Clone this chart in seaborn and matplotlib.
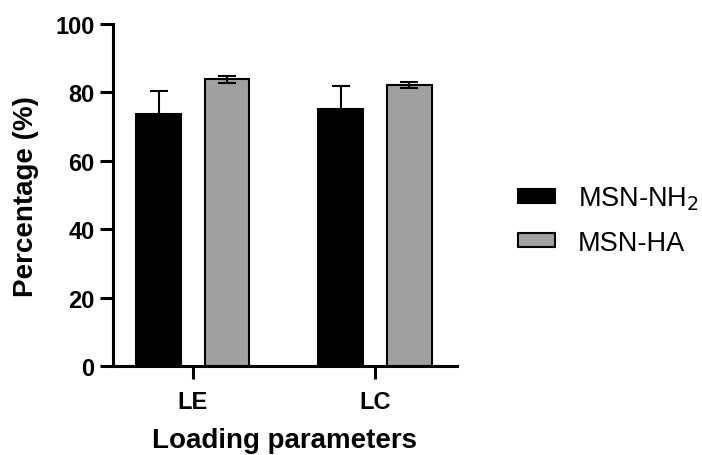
import pandas as pd
import matplotlib.pyplot as plt
import seaborn as sns

# values
categories = ['LE', 'LC']
groups = ['MSN-NH$_2$', 'MSN-HA']
nh2_mean = [73.7, 75.1]
nh2_sd = [6.8, 6.8]
ha_mean = [83.8, 82.2]
ha_sd = [1.0, 1.0]

colors = ['#000000', '#A09FA4']

df = pd.DataFrame({
    'param': categories * 2,
    'group': [groups[0]] * 2 + [groups[1]] * 2,
    'value': nh2_mean + ha_mean,
})
sds = [nh2_sd, ha_sd]

sns.set_style('ticks')
plt.rcParams['font.family'] = ['Liberation Sans', 'DejaVu Sans']
for key in ['text.color', 'axes.labelcolor', 'xtick.color', 'ytick.color', 'axes.edgecolor']:
    plt.rcParams[key] = 'black'

fig = plt.figure(figsize=(7.02, 4.56), dpi=100)
ax = fig.add_axes([0.1605, 0.195, 0.4905, 0.75])

sns.barplot(data=df, x='param', y='value', hue='group', order=categories,
            hue_order=groups, palette=colors, width=0.75, gap=0.345,
            errorbar=None, edgecolor='black', linewidth=1.5, legend=False, ax=ax)
bar_containers = list(ax.containers)

# error bars at the bar centres
for cont, sd in zip(bar_containers, sds):
    xs = [p.get_x() + p.get_width() / 2 for p in cont.patches]
    ys = [p.get_height() for p in cont.patches]
    ax.errorbar(xs, ys, yerr=sd, fmt='none', ecolor='black', elinewidth=1.5,
                capsize=6.5, capthick=1.5, zorder=3)

ax.set_ylim(0, 100)
ax.set_xlim(-0.44, 1.45)
ax.set_yticks([0, 20, 40, 60, 80, 100])
sns.despine(ax=ax)
for s in ['left', 'bottom']:
    ax.spines[s].set_linewidth(2.2)
ax.tick_params(axis='both', width=2.2, length=9.4, labelsize=17)
ax.tick_params(axis='y', pad=3.6)
ax.tick_params(axis='x', pad=8)
for lab in ax.get_xticklabels() + ax.get_yticklabels():
    lab.set_fontweight('bold')

ax.set_xlabel('Loading parameters', fontsize=20, fontweight='bold', labelpad=10)
ax.set_ylabel('Percentage (%)', fontsize=20, fontweight='bold', labelpad=12)

handles = [c.patches[0] for c in bar_containers]
fig.legend(handles, groups, loc='center left', bbox_to_anchor=(518 / 702, 1 - 221 / 456),
           frameon=False, fontsize=19.5, handlelength=1.37, handleheight=0.4,
           handletextpad=0.85, labelspacing=0.65, borderpad=0, borderaxespad=0)

fig.savefig('out.png', dpi=100)
